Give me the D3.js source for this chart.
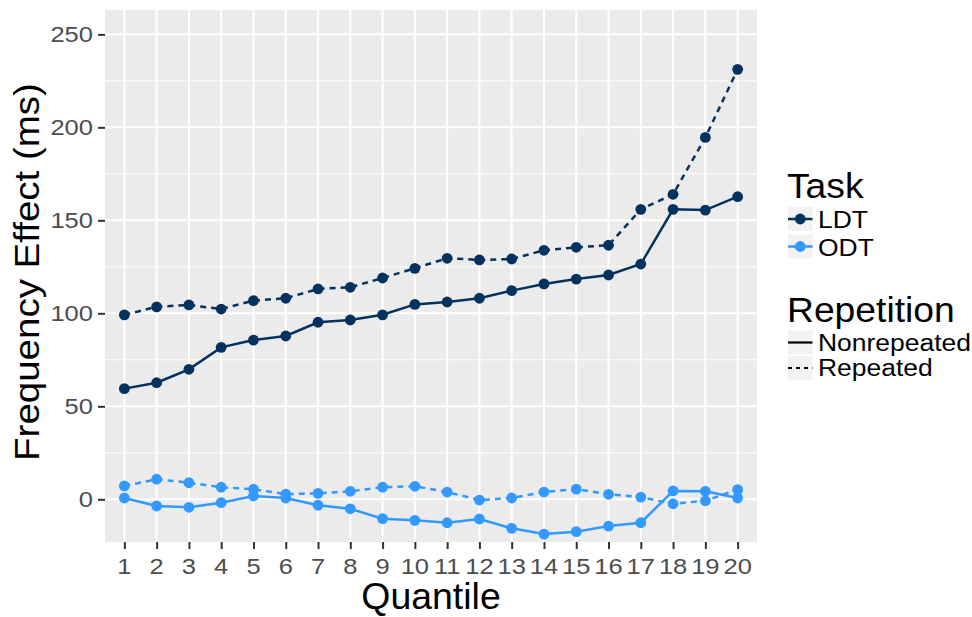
<!DOCTYPE html>
<html>
<head>
<meta charset="utf-8">
<script src="https://cdn.jsdelivr.net/npm/d3@7"></script>
<style>
  html, body { margin: 0; padding: 0; background: #ffffff; }
  svg { display: block; font-family: "Liberation Sans", Arial, Helvetica, sans-serif; }
</style>
</head>
<body>
<svg id="chart" width="972" height="617"></svg>
<script>
// ---- data ----
const quantiles = ["1","2","3","4","5","6","7","8","9","10","11","12","13","14","15","16","17","18","19","20"];
const yTicks = [0, 50, 100, 150, 200, 250];
const yMinorTicks = [25, 75, 125, 175, 225];
const taskNames = ["LDT", "ODT"];
const repetitionNames = ["Nonrepeated", "Repeated"];
const ldtNonrepeated = [59.5,62.7,69.9,81.7,85.6,87.8,95.2,96.4,99.2,104.8,106.1,108.1,112.2,115.8,118.4,120.6,126.5,155.9,155.5,162.7];
const ldtRepeated    = [99.2,103.5,104.5,102.3,106.8,108.1,113.1,114.0,119.0,124.2,129.6,128.7,129.2,133.9,135.5,136.6,155.9,164.0,194.6,231.2];
const odtNonrepeated = [0.7,-3.6,-4.3,-1.8,1.8,0.7,-3.2,-5.1,-10.4,-11.3,-12.6,-10.6,-15.6,-18.7,-17.4,-14.4,-12.6,4.5,4.3,0.7];
const odtRepeated    = [7.2,10.8,8.9,6.5,5.4,2.8,3.2,4.3,6.5,7.0,3.9,-0.4,0.7,3.9,5.5,2.7,1.2,-2.4,-0.8,5.2];

const series = [
  {task: "LDT", rep: "Nonrepeated", values: ldtNonrepeated},
  {task: "LDT", rep: "Repeated",    values: ldtRepeated},
  {task: "ODT", rep: "Nonrepeated", values: odtNonrepeated},
  {task: "ODT", rep: "Repeated",    values: odtRepeated}
];

// ---- styles ----
const taskColor = d3.scaleOrdinal().domain(taskNames).range(["#04325F", "#3399FF"]);
const repDash = d3.scaleOrdinal().domain(repetitionNames).range(["none", "6,5"]);
const panel = {left: 105, right: 757, top: 10, bottom: 542};

const svg = d3.select("#chart");

const x = d3.scalePoint().domain(quantiles).range([panel.left, panel.right]).padding(0.6);
const y = d3.scaleLinear().domain([-22.96, 263.1]).range([panel.bottom, panel.top]);

function txt(g, px, py, str, o) {
  const t = g.append("text")
    .attr("transform", `translate(${px},${py})` + (o.rotate ? ` rotate(${o.rotate})` : "") + ` scale(${o.sx || 1},1)`)
    .attr("text-anchor", o.anchor || "start")
    .attr("font-size", o.size)
    .attr("fill", o.fill || "#000")
    .text(str);
  return t;
}

// panel background
svg.append("rect")
  .attr("x", panel.left).attr("y", panel.top)
  .attr("width", panel.right - panel.left).attr("height", panel.bottom - panel.top)
  .attr("fill", "#EBEBEB");

const grid = svg.append("g");
grid.selectAll(".ymin").data(yMinorTicks).enter().append("line")
  .attr("x1", panel.left).attr("x2", panel.right)
  .attr("y1", d => y(d)).attr("y2", d => y(d))
  .attr("stroke", "#fff").attr("stroke-width", 1);
grid.selectAll(".ymaj").data(yTicks).enter().append("line")
  .attr("x1", panel.left).attr("x2", panel.right)
  .attr("y1", d => y(d)).attr("y2", d => y(d))
  .attr("stroke", "#fff").attr("stroke-width", 2);
grid.selectAll(".xmaj").data(quantiles).enter().append("line")
  .attr("y1", panel.top).attr("y2", panel.bottom)
  .attr("x1", d => x(d)).attr("x2", d => x(d))
  .attr("stroke", "#fff").attr("stroke-width", 2);

// axes (ticks via d3 axes)
const yAxis = svg.append("g").attr("transform", `translate(${panel.left},0)`)
  .call(d3.axisLeft(y).tickValues(yTicks).tickSize(7).tickFormat(""));
yAxis.select(".domain").remove();
yAxis.selectAll(".tick line").attr("stroke", "#333").attr("stroke-width", 2);

const xAxis = svg.append("g").attr("transform", `translate(0,${panel.bottom})`)
  .call(d3.axisBottom(x).tickSize(7).tickFormat(""));
xAxis.select(".domain").remove();
xAxis.selectAll(".tick line").attr("stroke", "#333").attr("stroke-width", 2);

// tick labels
const labels = svg.append("g");
yTicks.forEach(v => txt(labels, 93, y(v) + 7.8, String(v), {size: 22, anchor: "end", sx: 1.16, fill: "#4D4D4D"}));
quantiles.forEach(q => txt(labels, x(q), 574, q, {size: 22, anchor: "middle", sx: 1.16, fill: "#4D4D4D"}));

// axis titles
txt(svg, 431, 609, "Quantile", {size: 36, anchor: "middle", sx: 1.04});
txt(svg, 39, 272, "Frequency Effect (ms)", {size: 35, anchor: "middle", sx: 1.1, rotate: -90});

// lines
const line = d3.line().x((d, i) => x(quantiles[i])).y(d => y(d));
const marks = svg.append("g");
series.forEach(s => {
  marks.append("path")
    .attr("d", line(s.values))
    .attr("fill", "none")
    .attr("stroke", taskColor(s.task))
    .attr("stroke-width", 2.5)
    .attr("stroke-dasharray", repDash(s.rep));
});
series.forEach(s => {
  marks.append("g").selectAll("circle").data(s.values).enter().append("circle")
    .attr("cx", (d, i) => x(quantiles[i]))
    .attr("cy", d => y(d))
    .attr("r", 5.4)
    .attr("fill", taskColor(s.task));
});

// legends
const leg = svg.append("g");
txt(leg, 787, 198, "Task", {size: 34.5, sx: 1.08});
taskNames.forEach((t, i) => {
  const ky = 207 + i * 27.5;
  leg.append("rect").attr("x", 788).attr("y", ky).attr("width", 24.5).attr("height", 24).attr("fill", "#F2F2F2");
  leg.append("line").attr("x1", 788).attr("x2", 812.5).attr("y1", ky + 12).attr("y2", ky + 12)
    .attr("stroke", taskColor(t)).attr("stroke-width", 2.5);
  leg.append("circle").attr("cx", 800.25).attr("cy", ky + 12).attr("r", 5.4).attr("fill", taskColor(t));
  txt(leg, 818, ky + 21.2, t, {size: 24.5, sx: 1.08});
});

txt(leg, 787, 321.5, "Repetition", {size: 34.5, sx: 1.08});
repetitionNames.forEach((r, i) => {
  const ky = 330.5 + i * 25.5;
  leg.append("rect").attr("x", 788).attr("y", ky).attr("width", 24.5).attr("height", 24).attr("fill", "#F2F2F2");
  leg.append("line").attr("x1", 788).attr("x2", 812.5).attr("y1", ky + 12).attr("y2", ky + 12)
    .attr("stroke", "#000").attr("stroke-width", 2.2).attr("stroke-dasharray", r === "Repeated" ? "4,4" : "none");
  txt(leg, 818, ky + 20, r, {size: 24.5, sx: 1.08});
});
</script>
</body>
</html>
